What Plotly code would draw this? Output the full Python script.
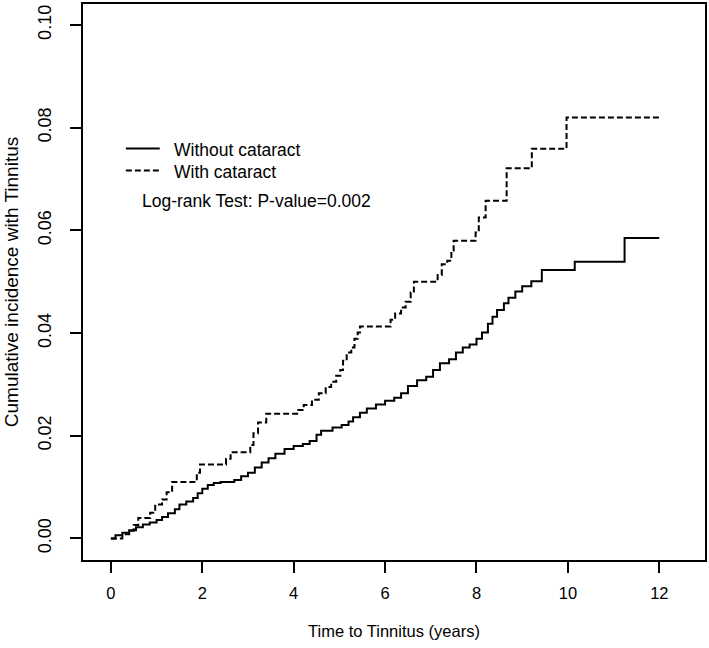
import plotly.graph_objects as go

# Without cataract (solid) - step function (time, cumulative incidence)
without_t = [0, 0.1, 0.25, 0.4, 0.55, 0.7, 0.85, 1.0, 1.12, 1.25, 1.4, 1.5, 1.65, 1.8, 1.9, 2.0,
             2.12, 2.25, 2.4, 2.7, 2.85, 3.0, 3.15, 3.3, 3.45, 3.6, 3.8, 4.0, 4.2, 4.35, 4.5, 4.6,
             4.85, 5.05, 5.2, 5.3, 5.45, 5.6, 5.8, 6.0, 6.2, 6.35, 6.5, 6.7, 6.9, 7.05, 7.2, 7.4,
             7.55, 7.7, 7.85, 8.0, 8.12, 8.25, 8.35, 8.45, 8.6, 8.7, 8.85, 9.0, 9.2, 9.43, 10.15,
             11.24, 12.0]
without_v = [0, 0.0006, 0.0011, 0.0016, 0.0022, 0.0027, 0.0031, 0.0036, 0.0042, 0.0049, 0.0057,
             0.0066, 0.0072, 0.0079, 0.0088, 0.0097, 0.0104, 0.0108, 0.0110, 0.0114, 0.0121,
             0.0128, 0.0138, 0.0148, 0.0156, 0.0165, 0.0174, 0.0180, 0.0184, 0.0190, 0.0202,
             0.0210, 0.0216, 0.0221, 0.0228, 0.0236, 0.0245, 0.0253, 0.0261, 0.0268, 0.0274,
             0.0283, 0.0297, 0.0308, 0.0315, 0.0328, 0.0341, 0.0349, 0.0362, 0.0372, 0.0378,
             0.0389, 0.0401, 0.0418, 0.0432, 0.0445, 0.0458, 0.0469, 0.0481, 0.0491, 0.0501,
             0.0523, 0.0539, 0.0585, 0.0585]

# With cataract (dashed)
with_t = [0, 0.25, 0.4, 0.5, 0.6, 0.86, 0.97, 1.12, 1.22, 1.34, 1.88, 1.95, 2.52, 2.62, 3.05,
          3.12, 3.22, 3.4, 4.1, 4.22, 4.4, 4.55, 4.7, 4.82, 4.93, 5.02, 5.08, 5.16, 5.26, 5.33,
          5.4, 5.45, 6.12, 6.22, 6.35, 6.45, 6.56, 6.63, 7.15, 7.24, 7.36, 7.45, 7.5, 7.98, 8.05,
          8.2, 8.66, 9.21, 9.97, 12.0]
with_v = [0, 0.0008, 0.0015, 0.0026, 0.0040, 0.0050, 0.0066, 0.0076, 0.0090, 0.0110, 0.0128,
          0.0144, 0.0155, 0.0168, 0.0182, 0.0205, 0.0226, 0.0243, 0.0250, 0.0260, 0.0270,
          0.0283, 0.0295, 0.0305, 0.0317, 0.0328, 0.0346, 0.0362, 0.0372, 0.0389, 0.0401,
          0.0413, 0.0426, 0.0438, 0.0450, 0.0461, 0.0479, 0.0500, 0.0513, 0.0534, 0.0541,
          0.0561, 0.0580, 0.0596, 0.0625, 0.0658, 0.0721, 0.0759, 0.0820, 0.0820]

series_names = ["Without cataract", "With cataract"]
series_dash = ["solid", "6px,3px"]
x_ticks = [0, 2, 4, 6, 8, 10, 12]
y_ticks = [0.00, 0.02, 0.04, 0.06, 0.08, 0.10]
y_tick_labels = ["0.00", "0.02", "0.04", "0.06", "0.08", "0.10"]
test_text = "Log-rank Test: P-value=0.002"

FONT = "Liberation Sans, Arial, sans-serif"
W, H = 709, 648
ML, MR, MT, MB = 83, 2, 2, 88
PW, PH = W - ML - MR, H - MT - MB


def px(x):
    return (x - ML) / PW


def py(y):
    return (H - MB - y) / PH


fig = go.Figure()
for t, v, name, dash in [(without_t, without_v, series_names[0], series_dash[0]),
                         (with_t, with_v, series_names[1], series_dash[1])]:
    fig.add_trace(go.Scatter(x=t, y=v, mode="lines", line_shape="hv", name=name,
                             showlegend=False,
                             line=dict(color="black", width=2, dash=dash)))

# Manual legend (R style)
legend_rows = [147, 169]
for row_y, name, dash in zip(legend_rows, series_names, series_dash):
    fig.add_shape(type="line", xref="paper", yref="paper",
                  x0=px(126), x1=px(160), y0=py(row_y), y1=py(row_y),
                  line=dict(color="black", width=2, dash=dash))
    fig.add_annotation(text=name, xref="paper", yref="paper", x=px(172), y=py(row_y + 2),
                       xanchor="left", yanchor="middle", showarrow=False,
                       font=dict(family=FONT, size=17.5, color="black"))

fig.add_annotation(text=test_text, xref="paper", yref="paper",
                   x=px(140), y=py(200), xanchor="left", yanchor="middle",
                   showarrow=False, font=dict(family=FONT, size=17.5, color="black"))

fig.update_layout(
    width=W, height=H,
    margin=dict(l=ML, r=MR, t=MT, b=MB),
    plot_bgcolor="white", paper_bgcolor="white",
    font=dict(family=FONT, size=16, color="black"),
    showlegend=False,
    xaxis=dict(range=[-0.61, 13.0], tickvals=x_ticks, ticks="outside", ticklen=11,
               tickwidth=2, tickcolor="black", showline=True, linecolor="black", linewidth=2,
               mirror=True, showgrid=False, zeroline=False, ticklabelstandoff=6,
               tickfont=dict(family=FONT, size=16.5),
               title=dict(text="Time to Tinnitus (years)", standoff=25,
                          font=dict(family=FONT, size=16.5))),
    yaxis=dict(range=[-0.0042, 0.1041], tickvals=y_ticks, ticktext=y_tick_labels,
               ticks="outside", ticklen=11, tickwidth=2, tickcolor="black", tickangle=-90,
               showline=True, linecolor="black", linewidth=2, mirror=True, showgrid=False,
               zeroline=False, ticklabelstandoff=12,
               tickfont=dict(family=FONT, size=18),
               title=dict(text="Cumulative incidence with Tinnitus", standoff=11,
                          font=dict(family=FONT, size=19))),
)

fig.write_html("out.html", config={"displayModeBar": False},
               post_script="document.body.style.margin='0';document.body.style.overflow='hidden';")
